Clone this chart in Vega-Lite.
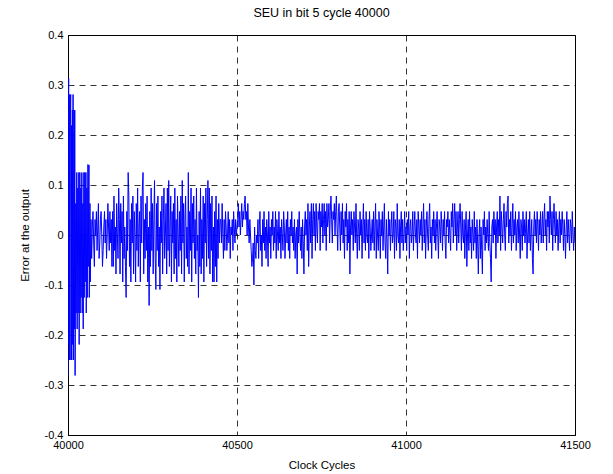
{
"$schema": "https://vega.github.io/schema/vega-lite/v6.json",
"width": 507, "height": 400,
"autosize": {"type": "none"},
"padding": {"left": 68, "top": 35, "right": 38, "bottom": 39},
"background": "white",
"config": {"font": "Liberation Sans", "view": {"stroke": "#000", "strokeWidth": 1}},
"title": {"text": "SEU in bit 5 cycle 40000", "fontSize": 12.5, "fontWeight": "normal", "font": "Liberation Sans", "color": "#000", "offset": 10},
"data": {"values": [
{"cycle":40000,"err":-0.281},{"cycle":40001,"err":0.25},{"cycle":40002,"err":0.313},{"cycle":40003,"err":-0.219},{"cycle":40004,"err":0.281},{"cycle":40005,"err":-0.25},{"cycle":40006,"err":0.188},{"cycle":40008,"err":0.281},{"cycle":40009,"err":-0.25},{"cycle":40010,"err":0.219},{"cycle":40011,"err":-0.25},{"cycle":40013,"err":0.25},{"cycle":40014,"err":-0.219},{"cycle":40015,"err":0.281},{"cycle":40016,"err":-0.25},{"cycle":40018,"err":0.25},{"cycle":40019,"err":-0.188},{"cycle":40020,"err":0.25},{"cycle":40021,"err":-0.281},{"cycle":40023,"err":0.063},{"cycle":40024,"err":-0.156},{"cycle":40026,"err":0.125},{"cycle":40027,"err":-0.188},{"cycle":40029,"err":0.094},{"cycle":40030,"err":-0.156},{"cycle":40032,"err":0.125},{"cycle":40033,"err":-0.219},{"cycle":40035,"err":0.125},{"cycle":40036,"err":-0.156},{"cycle":40038,"err":0.094},{"cycle":40039,"err":-0.125},{"cycle":40041,"err":0.125},{"cycle":40042,"err":-0.156},{"cycle":40044,"err":0.063},{"cycle":40045,"err":-0.188},{"cycle":40047,"err":0.125},{"cycle":40048,"err":-0.125},{"cycle":40050,"err":0.125},{"cycle":40051,"err":-0.094},{"cycle":40053,"err":0.125},{"cycle":40054,"err":-0.156},{"cycle":40056,"err":0.094},{"cycle":40057,"err":-0.125},{"cycle":40059,"err":0.141},{"cycle":40060,"err":-0.063},{"cycle":40062,"err":0.14},{"cycle":40063,"err":-0.125},{"cycle":40065,"err":0.063},{"cycle":40066,"err":-0.094},
{"cycle":40068,"err":0.031},{"cycle":40070,"err":-0.047},{"cycle":40072,"err":0.016},{"cycle":40074,"err":0.047},{"cycle":40076,"err":-0.016},{"cycle":40078,"err":-0.063},{"cycle":40080,"err":0.031},{"cycle":40082,"err":0},{"cycle":40084,"err":0.047},{"cycle":40086,"err":-0.031},{"cycle":40088,"err":0.016},{"cycle":40090,"err":0.063},{"cycle":40092,"err":-0.047},{"cycle":40094,"err":-0.016},{"cycle":40096,"err":0.031},{"cycle":40098,"err":0.047},{"cycle":40100,"err":0},{"cycle":40102,"err":-0.063},{"cycle":40104,"err":-0.031},{"cycle":40106,"err":0.016},{"cycle":40108,"err":0.047},{"cycle":40110,"err":-0.016},{"cycle":40112,"err":0.031},{"cycle":40114,"err":-0.047},{"cycle":40116,"err":0},{"cycle":40118,"err":0.063},{"cycle":40120,"err":0.016},{"cycle":40122,"err":-0.031},{"cycle":40124,"err":0.047},{"cycle":40126,"err":-0.016},{"cycle":40128,"err":0.031},{"cycle":40130,"err":-0.063},
{"cycle":40132,"err":0.047},{"cycle":40134,"err":-0.063},{"cycle":40136,"err":0.078},{"cycle":40138,"err":-0.031},{"cycle":40140,"err":0.016},{"cycle":40142,"err":-0.078},{"cycle":40144,"err":0.063},{"cycle":40146,"err":0},{"cycle":40148,"err":-0.047},{"cycle":40150,"err":0.094},
{"cycle":40152,"err":0.031},{"cycle":40154,"err":-0.078},{"cycle":40156,"err":0.063},{"cycle":40158,"err":-0.016},{"cycle":40160,"err":0.047},{"cycle":40162,"err":-0.094},{"cycle":40164,"err":0.078},{"cycle":40166,"err":-0.047},{"cycle":40168,"err":0.016},{"cycle":40170,"err":-0.063},
{"cycle":40172,"err":-0.125},{"cycle":40174,"err":0.047},{"cycle":40176,"err":-0.031},{"cycle":40178,"err":0.125},{"cycle":40180,"err":0.078},{"cycle":40182,"err":-0.063},{"cycle":40184,"err":0.031},{"cycle":40186,"err":-0.094},{"cycle":40188,"err":0.063},{"cycle":40190,"err":-0.016},
{"cycle":40192,"err":0.078},{"cycle":40194,"err":-0.078},{"cycle":40196,"err":0.047},{"cycle":40198,"err":0},{"cycle":40200,"err":-0.094},{"cycle":40202,"err":0.063},{"cycle":40204,"err":-0.031},{"cycle":40206,"err":0.094},{"cycle":40208,"err":-0.063},{"cycle":40210,"err":0.016},
{"cycle":40212,"err":0.047},{"cycle":40214,"err":-0.094},{"cycle":40216,"err":0.078},{"cycle":40218,"err":-0.016},{"cycle":40220,"err":0.094},{"cycle":40222,"err":0.125},{"cycle":40224,"err":-0.078},{"cycle":40226,"err":0.031},{"cycle":40228,"err":-0.047},{"cycle":40230,"err":0.063},
{"cycle":40232,"err":-0.031},{"cycle":40234,"err":0.078},{"cycle":40236,"err":-0.094},{"cycle":40238,"err":0.016},{"cycle":40240,"err":-0.141},{"cycle":40242,"err":0.047},{"cycle":40244,"err":-0.063},{"cycle":40246,"err":0.094},{"cycle":40248,"err":-0.031},{"cycle":40250,"err":0.063},
{"cycle":40252,"err":-0.078},{"cycle":40254,"err":0.031},{"cycle":40256,"err":0.109},{"cycle":40258,"err":-0.047},{"cycle":40260,"err":-0.109},{"cycle":40262,"err":0.063},{"cycle":40264,"err":-0.031},{"cycle":40266,"err":0.078},{"cycle":40268,"err":-0.063},{"cycle":40270,"err":0.016},
{"cycle":40272,"err":-0.109},{"cycle":40274,"err":0.047},{"cycle":40276,"err":-0.016},{"cycle":40278,"err":0.078},{"cycle":40280,"err":-0.078},{"cycle":40282,"err":0.031},{"cycle":40284,"err":0.094},{"cycle":40286,"err":-0.047},{"cycle":40288,"err":0},{"cycle":40290,"err":0.063},
{"cycle":40292,"err":-0.078},{"cycle":40294,"err":0.094},{"cycle":40296,"err":-0.031},{"cycle":40298,"err":0.109},{"cycle":40300,"err":-0.063},{"cycle":40302,"err":0.016},{"cycle":40304,"err":0.078},{"cycle":40306,"err":-0.094},{"cycle":40308,"err":0.047},{"cycle":40310,"err":-0.016},
{"cycle":40312,"err":0.063},{"cycle":40314,"err":-0.078},{"cycle":40316,"err":0.094},{"cycle":40318,"err":-0.047},{"cycle":40320,"err":0.031},{"cycle":40322,"err":-0.094},{"cycle":40324,"err":0.078},{"cycle":40326,"err":0},{"cycle":40328,"err":-0.063},{"cycle":40330,"err":0.047},
{"cycle":40332,"err":-0.031},{"cycle":40334,"err":0.078},{"cycle":40336,"err":-0.078},{"cycle":40338,"err":0.109},{"cycle":40340,"err":-0.016},{"cycle":40342,"err":0.063},{"cycle":40344,"err":-0.094},{"cycle":40346,"err":0.031},{"cycle":40348,"err":0.078},{"cycle":40350,"err":-0.047},
{"cycle":40352,"err":0.016},{"cycle":40354,"err":-0.063},{"cycle":40356,"err":0.125},{"cycle":40358,"err":-0.078},{"cycle":40360,"err":0.047},{"cycle":40362,"err":-0.031},{"cycle":40364,"err":0.094},{"cycle":40366,"err":-0.094},{"cycle":40368,"err":0.063},{"cycle":40370,"err":-0.016},
{"cycle":40372,"err":0.078},{"cycle":40374,"err":-0.047},{"cycle":40376,"err":0.031},{"cycle":40378,"err":-0.078},{"cycle":40380,"err":0.094},{"cycle":40382,"err":-0.031},{"cycle":40384,"err":0},{"cycle":40386,"err":-0.125},{"cycle":40388,"err":0.047},{"cycle":40390,"err":-0.063},
{"cycle":40392,"err":0.094},{"cycle":40394,"err":-0.078},{"cycle":40396,"err":0.031},{"cycle":40398,"err":-0.047},{"cycle":40400,"err":0.078},{"cycle":40402,"err":-0.094},{"cycle":40404,"err":0.063},{"cycle":40406,"err":-0.016},{"cycle":40408,"err":0.094},{"cycle":40410,"err":-0.063},
{"cycle":40412,"err":0.031},{"cycle":40414,"err":0.109},{"cycle":40416,"err":-0.047},{"cycle":40418,"err":0.094},{"cycle":40420,"err":-0.078},{"cycle":40422,"err":0.063},{"cycle":40424,"err":-0.031},{"cycle":40426,"err":0.078},{"cycle":40428,"err":-0.094},{"cycle":40430,"err":0.016},
{"cycle":40432,"err":-0.094},{"cycle":40434,"err":0.047},{"cycle":40436,"err":-0.063},{"cycle":40438,"err":0.078},{"cycle":40440,"err":-0.094},{"cycle":40442,"err":0.031},{"cycle":40444,"err":-0.047},{"cycle":40446,"err":0.063},{"cycle":40448,"err":-0.016},{"cycle":40450,"err":0.031},
{"cycle":40452,"err":0.031},{"cycle":40454,"err":-0.016},{"cycle":40456,"err":0.063},{"cycle":40458,"err":0},{"cycle":40460,"err":-0.047},{"cycle":40462,"err":0.031},{"cycle":40464,"err":-0.031},{"cycle":40466,"err":0.047},{"cycle":40468,"err":0.016},{"cycle":40470,"err":-0.031},{"cycle":40472,"err":0},{"cycle":40474,"err":0.047},{"cycle":40476,"err":-0.016},{"cycle":40478,"err":0.031},{"cycle":40480,"err":-0.047},{"cycle":40482,"err":0.016},{"cycle":40484,"err":0},{"cycle":40486,"err":0.031},{"cycle":40488,"err":-0.031},{"cycle":40490,"err":0.047},{"cycle":40492,"err":0.016},{"cycle":40494,"err":-0.016},{"cycle":40496,"err":0.031},{"cycle":40498,"err":0},{"cycle":40500,"err":0.016},
{"cycle":40502,"err":0.031},{"cycle":40504,"err":0.063},{"cycle":40506,"err":0.016},{"cycle":40508,"err":0.047},{"cycle":40510,"err":0},{"cycle":40512,"err":0.031},{"cycle":40514,"err":0.063},{"cycle":40516,"err":0.016},{"cycle":40518,"err":0.047},{"cycle":40520,"err":0.031},
{"cycle":40522,"err":0.063},{"cycle":40524,"err":0.078},{"cycle":40526,"err":0.031},{"cycle":40528,"err":0.047},{"cycle":40530,"err":0},{"cycle":40532,"err":0.063},{"cycle":40534,"err":0.016},{"cycle":40536,"err":-0.016},{"cycle":40538,"err":0.031},{"cycle":40540,"err":0},
{"cycle":40542,"err":-0.031},{"cycle":40544,"err":-0.063},{"cycle":40546,"err":-0.047},{"cycle":40548,"err":-0.016},{"cycle":40550,"err":-0.1},{"cycle":40552,"err":0.016},{"cycle":40554,"err":-0.031},{"cycle":40556,"err":-0.047},{"cycle":40558,"err":0},{"cycle":40560,"err":-0.016},
{"cycle":40562,"err":0.031},{"cycle":40564,"err":-0.047},{"cycle":40566,"err":0.016},{"cycle":40568,"err":0.047},{"cycle":40570,"err":-0.031},{"cycle":40572,"err":0},{"cycle":40574,"err":-0.063},{"cycle":40576,"err":0.031},{"cycle":40578,"err":-0.016},{"cycle":40580,"err":0.047},
{"cycle":40582,"err":-0.031},{"cycle":40584,"err":0.016},{"cycle":40586,"err":-0.047},{"cycle":40588,"err":0.031},{"cycle":40590,"err":0},{"cycle":40592,"err":-0.063},{"cycle":40594,"err":0.047},{"cycle":40596,"err":-0.016},{"cycle":40598,"err":0.016},{"cycle":40600,"err":-0.047},
{"cycle":40602,"err":0.031},{"cycle":40604,"err":0},{"cycle":40606,"err":0.047},{"cycle":40608,"err":-0.031},{"cycle":40610,"err":0.016},{"cycle":40612,"err":-0.016},{"cycle":40614,"err":0.047},{"cycle":40616,"err":-0.047},{"cycle":40618,"err":0.031},{"cycle":40620,"err":0},
{"cycle":40622,"err":-0.031},{"cycle":40624,"err":0.047},{"cycle":40626,"err":-0.016},{"cycle":40628,"err":0.016},{"cycle":40630,"err":-0.047},{"cycle":40632,"err":0.031},{"cycle":40634,"err":0},{"cycle":40636,"err":-0.031},{"cycle":40638,"err":0.047},{"cycle":40640,"err":0.016},
{"cycle":40642,"err":-0.047},{"cycle":40644,"err":0},{"cycle":40646,"err":0.031},{"cycle":40648,"err":-0.016},{"cycle":40650,"err":0.047},{"cycle":40652,"err":-0.031},{"cycle":40654,"err":0.016},{"cycle":40656,"err":-0.047},{"cycle":40658,"err":0.031},{"cycle":40660,"err":0},
{"cycle":40662,"err":0.047},{"cycle":40664,"err":-0.016},{"cycle":40666,"err":0.016},{"cycle":40668,"err":-0.031},{"cycle":40670,"err":0.031},{"cycle":40672,"err":-0.047},{"cycle":40674,"err":0},{"cycle":40676,"err":0.016},{"cycle":40678,"err":-0.078},{"cycle":40680,"err":0.031},
{"cycle":40682,"err":-0.016},{"cycle":40684,"err":0.047},{"cycle":40686,"err":0},{"cycle":40688,"err":-0.031},{"cycle":40690,"err":0.016},{"cycle":40692,"err":-0.047},{"cycle":40694,"err":0.031},{"cycle":40696,"err":-0.016},{"cycle":40698,"err":-0.078},{"cycle":40700,"err":0.016},
{"cycle":40702,"err":0.047},{"cycle":40704,"err":0},{"cycle":40706,"err":0.031},{"cycle":40708,"err":-0.031},{"cycle":40710,"err":0.063},{"cycle":40712,"err":-0.063},{"cycle":40714,"err":0.016},{"cycle":40716,"err":0.047},{"cycle":40718,"err":-0.016},{"cycle":40720,"err":0.063},
{"cycle":40722,"err":-0.047},{"cycle":40724,"err":0.031},{"cycle":40726,"err":0.063},{"cycle":40728,"err":0},{"cycle":40730,"err":0.047},{"cycle":40732,"err":-0.031},{"cycle":40734,"err":0.063},{"cycle":40736,"err":0.016},{"cycle":40738,"err":-0.016},{"cycle":40740,"err":0.047},
{"cycle":40742,"err":0.031},{"cycle":40744,"err":0.063},{"cycle":40746,"err":-0.031},{"cycle":40748,"err":0.047},{"cycle":40750,"err":0.016},{"cycle":40752,"err":0.063},{"cycle":40754,"err":-0.016},{"cycle":40756,"err":0.031},{"cycle":40758,"err":0.063},{"cycle":40760,"err":0},
{"cycle":40762,"err":0.047},{"cycle":40764,"err":-0.031},{"cycle":40766,"err":0.063},{"cycle":40768,"err":0.016},{"cycle":40770,"err":0.031},{"cycle":40772,"err":0.063},{"cycle":40774,"err":-0.016},{"cycle":40776,"err":0.047},{"cycle":40778,"err":0.078},{"cycle":40780,"err":0.031},
{"cycle":40782,"err":-0.016},{"cycle":40784,"err":0.047},{"cycle":40786,"err":0.031},{"cycle":40788,"err":0.063},{"cycle":40790,"err":0},{"cycle":40792,"err":0.047},{"cycle":40794,"err":0.078},{"cycle":40796,"err":0.016},{"cycle":40798,"err":-0.031},{"cycle":40800,"err":0.047},
{"cycle":40802,"err":0.063},{"cycle":40804,"err":0.016},{"cycle":40806,"err":-0.031},{"cycle":40808,"err":0.047},{"cycle":40810,"err":0},{"cycle":40812,"err":0.063},{"cycle":40814,"err":-0.016},{"cycle":40816,"err":0.031},{"cycle":40818,"err":-0.047},{"cycle":40820,"err":0.047},
{"cycle":40822,"err":0.016},{"cycle":40824,"err":0.063},{"cycle":40826,"err":-0.031},{"cycle":40828,"err":0.031},{"cycle":40830,"err":-0.016},{"cycle":40832,"err":0.047},{"cycle":40834,"err":-0.078},{"cycle":40836,"err":0.016},{"cycle":40838,"err":0.047},{"cycle":40840,"err":0},
{"cycle":40842,"err":0.031},{"cycle":40844,"err":-0.031},{"cycle":40846,"err":0.047},{"cycle":40848,"err":0.016},{"cycle":40850,"err":-0.016},{"cycle":40852,"err":0.063},{"cycle":40854,"err":0},{"cycle":40856,"err":-0.047},{"cycle":40858,"err":0.031},{"cycle":40860,"err":0.016},
{"cycle":40862,"err":-0.031},{"cycle":40864,"err":0.047},{"cycle":40866,"err":0},{"cycle":40868,"err":0.031},{"cycle":40870,"err":-0.047},{"cycle":40872,"err":0.016},{"cycle":40874,"err":0.063},{"cycle":40876,"err":-0.016},{"cycle":40878,"err":0.031},{"cycle":40880,"err":-0.031},
{"cycle":40882,"err":0.047},{"cycle":40884,"err":0},{"cycle":40886,"err":-0.016},{"cycle":40888,"err":0.031},{"cycle":40890,"err":-0.047},{"cycle":40892,"err":0.047},{"cycle":40894,"err":0.016},{"cycle":40896,"err":-0.031},{"cycle":40898,"err":0},{"cycle":40900,"err":0.031},
{"cycle":40902,"err":-0.016},{"cycle":40904,"err":0.047},{"cycle":40906,"err":-0.031},{"cycle":40908,"err":0.016},{"cycle":40910,"err":0.063},{"cycle":40912,"err":-0.047},{"cycle":40914,"err":0.031},{"cycle":40916,"err":0},{"cycle":40918,"err":-0.031},{"cycle":40920,"err":0.047},
{"cycle":40922,"err":0.016},{"cycle":40924,"err":-0.047},{"cycle":40926,"err":0.031},{"cycle":40928,"err":0},{"cycle":40930,"err":0.047},{"cycle":40932,"err":-0.031},{"cycle":40934,"err":0.016},{"cycle":40936,"err":0.063},{"cycle":40938,"err":-0.016},{"cycle":40940,"err":-0.047},
{"cycle":40942,"err":0.031},{"cycle":40944,"err":-0.016},{"cycle":40946,"err":-0.078},{"cycle":40948,"err":0.047},{"cycle":40950,"err":0},{"cycle":40952,"err":0.031},{"cycle":40954,"err":-0.031},{"cycle":40956,"err":0.016},{"cycle":40958,"err":0.047},{"cycle":40960,"err":-0.016},
{"cycle":40962,"err":0},{"cycle":40964,"err":0.047},{"cycle":40966,"err":-0.047},{"cycle":40968,"err":0.031},{"cycle":40970,"err":0.016},{"cycle":40972,"err":-0.031},{"cycle":40974,"err":0.063},{"cycle":40976,"err":0},{"cycle":40978,"err":-0.016},{"cycle":40980,"err":0.031},
{"cycle":40982,"err":-0.047},{"cycle":40984,"err":0.016},{"cycle":40986,"err":0.047},{"cycle":40988,"err":-0.016},{"cycle":40990,"err":0.031},{"cycle":40992,"err":-0.031},{"cycle":40994,"err":0},{"cycle":40996,"err":0.047},{"cycle":40998,"err":-0.016},{"cycle":41000,"err":0.016},
{"cycle":41002,"err":-0.031},{"cycle":41004,"err":0.031},{"cycle":41006,"err":0},{"cycle":41008,"err":0.047},{"cycle":41010,"err":-0.047},{"cycle":41012,"err":0.016},{"cycle":41014,"err":0.031},{"cycle":41016,"err":-0.016},{"cycle":41018,"err":0},{"cycle":41020,"err":0.047},
{"cycle":41022,"err":-0.031},{"cycle":41024,"err":0.016},{"cycle":41026,"err":0.047},{"cycle":41028,"err":0},{"cycle":41030,"err":-0.016},{"cycle":41032,"err":0.031},{"cycle":41034,"err":-0.047},{"cycle":41036,"err":0.047},{"cycle":41038,"err":0.016},{"cycle":41040,"err":-0.016},
{"cycle":41042,"err":0.031},{"cycle":41044,"err":0},{"cycle":41046,"err":0.047},{"cycle":41048,"err":-0.031},{"cycle":41050,"err":0.016},{"cycle":41052,"err":0.063},{"cycle":41054,"err":-0.016},{"cycle":41056,"err":0.031},{"cycle":41058,"err":-0.047},{"cycle":41060,"err":0.016},
{"cycle":41062,"err":0.047},{"cycle":41064,"err":0},{"cycle":41066,"err":-0.031},{"cycle":41068,"err":0.031},{"cycle":41070,"err":0.063},{"cycle":41072,"err":-0.016},{"cycle":41074,"err":0.016},{"cycle":41076,"err":-0.047},{"cycle":41078,"err":0.031},{"cycle":41080,"err":0},
{"cycle":41082,"err":0.047},{"cycle":41084,"err":-0.016},{"cycle":41086,"err":0.031},{"cycle":41088,"err":-0.031},{"cycle":41090,"err":0.016},{"cycle":41092,"err":0.047},{"cycle":41094,"err":0},{"cycle":41096,"err":-0.047},{"cycle":41098,"err":0.031},{"cycle":41100,"err":0.016},
{"cycle":41102,"err":-0.016},{"cycle":41104,"err":0.047},{"cycle":41106,"err":0.016},{"cycle":41108,"err":-0.031},{"cycle":41110,"err":0.031},{"cycle":41112,"err":0},{"cycle":41114,"err":0.047},{"cycle":41116,"err":-0.016},{"cycle":41118,"err":-0.047},{"cycle":41120,"err":0.031},
{"cycle":41122,"err":0.016},{"cycle":41124,"err":0.047},{"cycle":41126,"err":-0.016},{"cycle":41128,"err":0.031},{"cycle":41130,"err":0},{"cycle":41132,"err":-0.031},{"cycle":41134,"err":0.047},{"cycle":41136,"err":0.016},{"cycle":41138,"err":0.063},{"cycle":41140,"err":-0.016},
{"cycle":41142,"err":0.031},{"cycle":41144,"err":0.063},{"cycle":41146,"err":0},{"cycle":41148,"err":0.047},{"cycle":41150,"err":-0.031},{"cycle":41152,"err":0.016},{"cycle":41154,"err":0.047},{"cycle":41156,"err":-0.016},{"cycle":41158,"err":0.031},{"cycle":41160,"err":0.063},
{"cycle":41162,"err":0.016},{"cycle":41164,"err":-0.031},{"cycle":41166,"err":0.047},{"cycle":41168,"err":0},{"cycle":41170,"err":-0.016},{"cycle":41172,"err":0.031},{"cycle":41174,"err":-0.047},{"cycle":41176,"err":0.016},{"cycle":41178,"err":0.047},{"cycle":41180,"err":-0.063},
{"cycle":41182,"err":0},{"cycle":41184,"err":0.031},{"cycle":41186,"err":-0.031},{"cycle":41188,"err":0.047},{"cycle":41190,"err":-0.016},{"cycle":41192,"err":0.016},{"cycle":41194,"err":-0.047},{"cycle":41196,"err":0.031},{"cycle":41198,"err":0},{"cycle":41200,"err":-0.031},
{"cycle":41202,"err":0.047},{"cycle":41204,"err":-0.016},{"cycle":41206,"err":0.016},{"cycle":41208,"err":-0.047},{"cycle":41210,"err":0.031},{"cycle":41212,"err":-0.016},{"cycle":41214,"err":-0.078},{"cycle":41216,"err":0},{"cycle":41218,"err":0.031},{"cycle":41220,"err":-0.047},
{"cycle":41222,"err":0.016},{"cycle":41224,"err":-0.031},{"cycle":41226,"err":-0.078},{"cycle":41228,"err":0.031},{"cycle":41230,"err":0},{"cycle":41232,"err":0.047},{"cycle":41234,"err":-0.031},{"cycle":41236,"err":0.016},{"cycle":41238,"err":-0.016},{"cycle":41240,"err":0.031},
{"cycle":41242,"err":0},{"cycle":41244,"err":-0.031},{"cycle":41246,"err":0.047},{"cycle":41248,"err":-0.016},{"cycle":41250,"err":-0.047},{"cycle":41252,"err":-0.094},{"cycle":41254,"err":0.016},{"cycle":41256,"err":0.031},{"cycle":41258,"err":-0.016},{"cycle":41260,"err":0.047},
{"cycle":41262,"err":0},{"cycle":41264,"err":0.031},{"cycle":41266,"err":-0.047},{"cycle":41268,"err":0.016},{"cycle":41270,"err":0.047},{"cycle":41272,"err":-0.016},{"cycle":41274,"err":0.031},{"cycle":41276,"err":0},{"cycle":41278,"err":0.078},{"cycle":41280,"err":-0.031},
{"cycle":41282,"err":0.047},{"cycle":41284,"err":0.016},{"cycle":41286,"err":-0.016},{"cycle":41288,"err":0.031},{"cycle":41290,"err":0.063},{"cycle":41292,"err":0},{"cycle":41294,"err":-0.031},{"cycle":41296,"err":0.047},{"cycle":41298,"err":0.016},{"cycle":41300,"err":0.063},
{"cycle":41302,"err":0.078},{"cycle":41304,"err":-0.016},{"cycle":41306,"err":0.031},{"cycle":41308,"err":0},{"cycle":41310,"err":0.047},{"cycle":41312,"err":-0.031},{"cycle":41314,"err":0.016},{"cycle":41316,"err":0.063},{"cycle":41318,"err":-0.016},{"cycle":41320,"err":0.031},
{"cycle":41322,"err":0},{"cycle":41324,"err":0.047},{"cycle":41326,"err":-0.031},{"cycle":41328,"err":0.016},{"cycle":41330,"err":0.031},{"cycle":41332,"err":-0.016},{"cycle":41334,"err":0.047},{"cycle":41336,"err":0},{"cycle":41338,"err":-0.047},{"cycle":41340,"err":0.031},
{"cycle":41342,"err":0.016},{"cycle":41344,"err":-0.031},{"cycle":41346,"err":0.047},{"cycle":41348,"err":0},{"cycle":41350,"err":0.031},{"cycle":41352,"err":-0.016},{"cycle":41354,"err":0.016},{"cycle":41356,"err":0.047},{"cycle":41358,"err":-0.047},{"cycle":41360,"err":0},
{"cycle":41362,"err":0.031},{"cycle":41364,"err":-0.016},{"cycle":41366,"err":0.047},{"cycle":41368,"err":-0.031},{"cycle":41370,"err":0},{"cycle":41372,"err":0.031},{"cycle":41374,"err":-0.047},{"cycle":41376,"err":-0.078},{"cycle":41378,"err":0.016},{"cycle":41380,"err":0.047},
{"cycle":41382,"err":0},{"cycle":41384,"err":0.031},{"cycle":41386,"err":-0.016},{"cycle":41388,"err":0.047},{"cycle":41390,"err":0.016},{"cycle":41392,"err":-0.031},{"cycle":41394,"err":0.031},{"cycle":41396,"err":0},{"cycle":41398,"err":0.047},{"cycle":41400,"err":-0.016},
{"cycle":41402,"err":0.016},{"cycle":41404,"err":0.047},{"cycle":41406,"err":-0.016},{"cycle":41408,"err":0.031},{"cycle":41410,"err":0.063},{"cycle":41412,"err":0},{"cycle":41414,"err":0.031},{"cycle":41416,"err":-0.031},{"cycle":41418,"err":0.047},{"cycle":41420,"err":0.016},
{"cycle":41422,"err":0.047},{"cycle":41424,"err":-0.016},{"cycle":41426,"err":0.078},{"cycle":41428,"err":0.031},{"cycle":41430,"err":0},{"cycle":41432,"err":0.047},{"cycle":41434,"err":-0.031},{"cycle":41436,"err":0.031},{"cycle":41438,"err":0.063},{"cycle":41440,"err":0.016},
{"cycle":41442,"err":-0.016},{"cycle":41444,"err":0.047},{"cycle":41446,"err":0},{"cycle":41448,"err":0.031},{"cycle":41450,"err":-0.031},{"cycle":41452,"err":0.016},{"cycle":41454,"err":0.047},{"cycle":41456,"err":-0.016},{"cycle":41458,"err":0.031},{"cycle":41460,"err":0},
{"cycle":41462,"err":0.047},{"cycle":41464,"err":0.016},{"cycle":41466,"err":-0.031},{"cycle":41468,"err":0.031},{"cycle":41470,"err":0},{"cycle":41472,"err":-0.047},{"cycle":41474,"err":0.016},{"cycle":41476,"err":0.047},{"cycle":41478,"err":-0.016},{"cycle":41480,"err":0.031},
{"cycle":41482,"err":0},{"cycle":41484,"err":-0.031},{"cycle":41486,"err":0.031},{"cycle":41488,"err":0.016},{"cycle":41490,"err":-0.016},{"cycle":41492,"err":0.047},{"cycle":41494,"err":0},{"cycle":41496,"err":-0.031},{"cycle":41498,"err":0.016},{"cycle":41500,"err":-0.016}
]},
"mark": {"type": "line", "color": "#0000ff", "strokeWidth": 1, "clip": true},
"encoding": {
"x": {"field": "cycle", "type": "quantitative", "scale": {"domain": [40000, 41500], "nice": false, "zero": false},
"axis": {"values": [40000, 40500, 41000, 41500], "format": "d", "title": "Clock Cycles", "grid": true, "gridColor": "#000", "gridDash": [6, 5], "gridWidth": 0.8, "gridOpacity": 1, "domainColor": "#000", "ticks": false, "labelFontSize": 11, "labelColor": "#000", "labelPadding": 4, "labelFlush": false, "titleFontSize": 11.5, "titleFontWeight": "normal", "titleColor": "#000", "titlePadding": 9}},
"y": {"field": "err", "type": "quantitative", "scale": {"domain": [-0.4, 0.4], "nice": false, "zero": false},
"axis": {"values": [-0.4, -0.3, -0.2, -0.1, 0, 0.1, 0.2, 0.3, 0.4], "labelExpr": "datum.value == 0 ? '0' : toString(round(datum.value*10)/10)", "title": "Error at the output", "grid": true, "gridColor": "#000", "gridDash": [6, 5], "gridWidth": 0.8, "gridOpacity": 1, "domainColor": "#000", "ticks": false, "labelFontSize": 11, "labelColor": "#000", "labelPadding": 5, "labelFlush": false, "titleFontSize": 11.5, "titleFontWeight": "normal", "titleColor": "#000", "titlePadding": 14}}
}
}
